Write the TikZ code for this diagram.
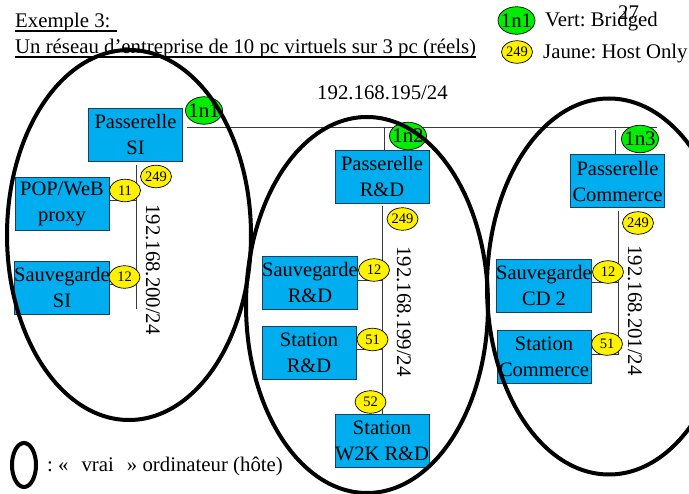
\documentclass[tikz,border=0pt]{standalone}
\usepackage{fontspec}
\setmainfont{Liberation Serif}
\usetikzlibrary{shapes.geometric}
\definecolor{boxblue}{HTML}{00AEEF}
\definecolor{boxedge}{HTML}{17405E}
\definecolor{lan}{HTML}{3A3A3A}
\definecolor{vertg}{HTML}{00EE00}
\tikzset{
  x=1pt,y=-1pt,
  txt/.style={inner sep=0pt,font=\fontsize{20.8}{24}\selectfont\frenchspacing},
  boxn/.style={draw=boxedge,line width=0.9pt,fill=boxblue,inner sep=0pt,minimum width=94pt,minimum height=53pt,align=center,font=\fontsize{20.5}{26}\selectfont,execute at begin node={\vspace*{3pt}}},
  greenn/.style={draw=black,line width=0.7pt,fill=vertg,ellipse,inner sep=-7pt,minimum width=37pt,minimum height=27.5pt,font=\fontsize{20.8}{24}\selectfont},
  yel/.style={draw=black,line width=0.7pt,fill=yellow,ellipse,inner sep=-5pt,minimum width=31pt,minimum height=22.5pt,font=\fontsize{14.5}{16}\selectfont},
  lanw/.style={draw=lan,line width=1pt},
  host/.style={draw=black,line width=4pt},
  vert/.style={rotate=-90,inner sep=0pt,font=\fontsize{20.8}{24}\selectfont}
}
\begin{document}
\begin{tikzpicture}
\useasboundingbox (0,0) rectangle (689,494);
\clip (0,0) rectangle (689,494);
% texts
\node[txt,anchor=base west] (ex) at (15,28) {Exemple 3: };
\node[txt,anchor=base west] (un) at (15,54) {Un réseau d'entreprise de 10 pc virtuels sur 3 pc (réels)};
\coordinate (ul1a) at (15,31); \coordinate (ul1b) at (117,31);
\coordinate (ul2a) at (15,57); \coordinate (ul2b) at (476,57);
\draw[line width=1.2pt] (ul1a) -- (ul1b);
\draw[line width=1.2pt] (ul2a) -- (ul2b);
\node[txt,anchor=base west] (vert) at (545,27) {Vert: Bridged};
\node[txt,anchor=base west] (jaune) at (543,59) {Jaune: Host Only};
\node[txt,anchor=base west] (page) at (618,20) {27};
\node[txt,anchor=base] (net) at (382.5,100) {192.168.195/24};
\node[txt,anchor=base west] (vrai) at (47,472) {: «\hspace{13pt}vrai\hspace{13pt}» ordinateur (hôte)};
% bus coordinates
\coordinate (busl) at (187,127.5);
\coordinate (busr) at (657,127.5);
\coordinate (stub2) at (384.5,127.5);
\coordinate (stub3t) at (615.5,130);
\coordinate (siT) at (136,165);
\coordinate (siB) at (136,309);
\coordinate (rdT) at (382.5,206);
\coordinate (coT) at (618.5,211);
% boxes
\node[boxn] (psi) at (135.5,134.5) {Passerelle\\SI};
\node[boxn] (pop) at (62,204) {POP/WeB\\proxy};
\node[boxn] (ssi) at (62,287.5) {Sauvegarde\\SI};
\node[boxn] (prd) at (382,176.5) {Passerelle\\R\&D};
\node[boxn] (srd) at (310,282.5) {Sauvegarde\\R\&D};
\node[boxn] (strd) at (309,352.5) {Station\\R\&D};
\node[boxn] (w2k) at (382,440.5) {Station\\W2K R\&D};
\node[boxn] (pco) at (617.5,181) {Passerelle\\Commerce};
\node[boxn] (scd) at (544,285.5) {Sauvegarde\\CD 2};
\node[boxn] (sco) at (544,356.5) {Station\\Commerce};
% lines
\draw[lanw] (busl) -- (busr);
\draw[lanw] (stub2) -- (stub2 |- prd.north);
\draw[lanw] (stub3t) -- (stub3t |- pco.north);
\draw[lanw] (siT) -- (siB);
\draw[lanw] (pop.east |- 0,201) -- (siT |- 0,201);
\draw[lanw] (ssi.east |- 0,285) -- (siT |- 0,285);
\draw[lanw] (rdT) -- (rdT |- w2k.north);
\draw[lanw] (srd.east |- 0,281) -- (rdT |- 0,281);
\draw[lanw] (strd.east |- 0,350) -- (rdT |- 0,350);
\draw[lanw] (coT) -- (coT |- 0,354.5);
\draw[lanw] (scd.east |- 0,283) -- (coT |- 0,283);
\draw[lanw] (sco.east |- 0,354.5) -- (coT |- 0,354.5);
% rotated labels
\node[vert] (l200) at (153,269.5) {192.168.200/24};
\node[vert] (l199) at (404,311.5) {192.168.199/24};
\node[vert] (l201) at (635,310.5) {192.168.201/24};
% green
\node[greenn] (g1) at (204,110.5) {1n1};
\node[greenn] (g2) at (408,136) {1n2};
\node[greenn] (g3) at (640,139) {1n3};
\node[greenn] (gl) at (516.5,20.5) {1n1};
% yellow
\node[yel] (yl) at (517,52) {249};
\node[yel] (y1) at (156,176.5) {249};
\node[yel] (y2) at (125,190.5) {11};
\node[yel] (y3) at (124.5,277) {12};
\node[yel] (y4) at (402.5,219) {249};
\node[yel] (y5) at (374,270) {12};
\node[yel] (y6) at (372.5,339.5) {51};
\node[yel] (y7) at (370.5,402) {52};
\node[yel] (y8) at (638,223) {249};
\node[yel] (y9) at (608,272) {12};
\node[yel] (y10) at (607,344) {51};
% hosts
\draw[host] (129,235) ellipse [x radius=122,y radius=185];
\draw[host] (367,305) ellipse [x radius=121,y radius=188];
\draw[host] (609,286.5) ellipse [x radius=122,y radius=188];
\draw[host] (24,465) ellipse [x radius=12,y radius=22];
\end{tikzpicture}
\end{document}
